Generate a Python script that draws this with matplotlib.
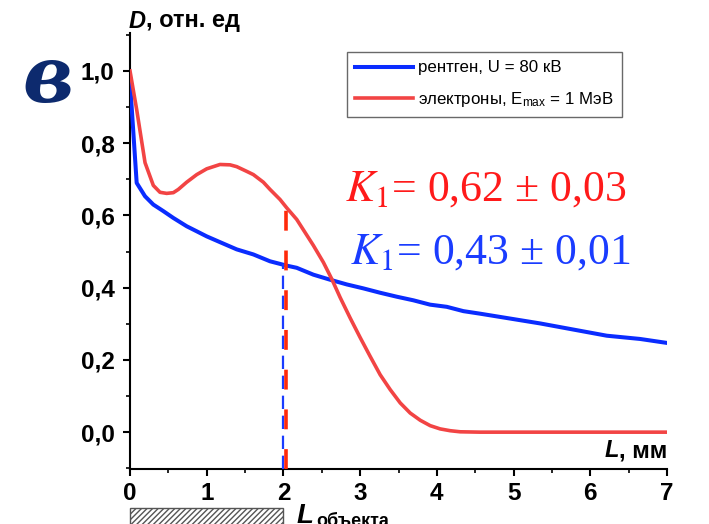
import matplotlib
matplotlib.use("Agg")
import matplotlib.pyplot as plt
from matplotlib.patches import Rectangle
import matplotlib.transforms as mtransforms
import numpy as np

# --- data ---
xray_x = [0.0, 0.087, 0.196, 0.304, 0.434, 0.565, 0.739, 0.870, 1.0, 1.173, 1.391, 1.608, 1.825, 2.043,
          2.173, 2.390, 2.608, 2.825, 3.042, 3.259, 3.477, 3.694, 3.911, 4.129, 4.346, 4.563,
          4.911, 5.346, 5.780, 6.215, 6.649, 7.0]
xray_y = [0.97, 0.690, 0.653, 0.630, 0.612, 0.593, 0.570, 0.556, 0.542, 0.526, 0.506, 0.492, 0.473, 0.461,
          0.455, 0.436, 0.422, 0.409, 0.398, 0.386, 0.375, 0.365, 0.353, 0.347, 0.335, 0.328,
          0.316, 0.301, 0.284, 0.267, 0.258, 0.247]

el_x = [0.0, 0.087, 0.196, 0.304, 0.391, 0.478, 0.565, 0.630, 0.739, 0.870, 1.0, 1.173, 1.304, 1.391,
        1.521, 1.608, 1.738, 1.825, 1.956, 2.043, 2.173, 2.390, 2.521, 2.630, 2.739, 2.870, 3.0,
        3.130, 3.261, 3.391, 3.522, 3.652, 3.783, 3.913, 4.043, 4.174, 4.304, 4.565, 5.0, 6.0, 7.0]
el_y = [1.0, 0.893, 0.746, 0.683, 0.664, 0.661, 0.663, 0.672, 0.692, 0.713, 0.729, 0.741, 0.740, 0.735,
        0.722, 0.713, 0.692, 0.672, 0.644, 0.621, 0.589, 0.517, 0.470, 0.424, 0.373, 0.316, 0.262,
        0.210, 0.159, 0.118, 0.081, 0.053, 0.033, 0.018, 0.009, 0.004, 0.001, 0.0, 0.0, 0.0, 0.0]

x_ticks = [0, 1, 2, 3, 4, 5, 6, 7]
y_ticks = [0.0, 0.2, 0.4, 0.6, 0.8, 1.0]
y_labels = ["0,0", "0,2", "0,4", "0,6", "0,8", "1,0"]

L_obj = 2.0
K_red = "= 0,62 ± 0,03"
K_blue = "= 0,43 ± 0,01"
leg_xray = "рентген, U = 80 кВ"
leg_el = "электроны, E$_{\\mathregular{max}}$ = 1 МэВ"

plt.rcParams['font.family'] = ['Liberation Sans', 'DejaVu Sans']
plt.rcParams['mathtext.fontset'] = 'stix'

fig = plt.figure(figsize=(7.09, 5.24), dpi=100)
ax = fig.add_axes([130/709, 1-469/524, (667-130)/709, (469-33)/524])

BLUE = '#0a2cff'
RED = '#f24444'

ax.plot(xray_x, xray_y, color=BLUE, lw=2.9, label=leg_xray, zorder=3)
ax.plot(el_x, el_y, color=RED, lw=2.6, label=leg_el, zorder=3)

# vertical dashed markers
ax.plot([L_obj, L_obj], [-0.102, 0.465], color='#1a3cff', lw=1.6, ls=(0, (6, 3)), zorder=4)
ax.plot([L_obj + 0.03, L_obj + 0.03], [-0.102, 0.625], color='#ff2a0a', lw=2.6, ls=(0, (5.5, 5.5)), zorder=5)

ax.set_xlim(0, 7)
ax.set_ylim(-0.102, 1.105)

ax.spines['top'].set_visible(False)
ax.spines['right'].set_visible(False)
for s in ['left', 'bottom']:
    ax.spines[s].set_linewidth(1.5)

ax.set_xticks(x_ticks)
ax.set_xticklabels([str(v) for v in x_ticks])
ax.set_yticks(y_ticks)
ax.set_yticklabels(y_labels)
ax.set_xticks(np.arange(0.5, 7, 1.0), minor=True)
ax.set_yticks(np.arange(-0.1, 1.11, 0.2), minor=True)
ax.tick_params(which='major', direction='out', length=5, width=1.5, labelsize=17.5, pad=4)
ax.tick_params(which='minor', direction='out', length=3, width=1.2)
ax.tick_params(axis='y', which='major', pad=6)
for lab in ax.get_xticklabels() + ax.get_yticklabels():
    lab.set_fontweight('bold')

fig.canvas.draw()
rend = fig.canvas.get_renderer()

# y axis label
t1 = fig.text(129/709, 1-21/524, "D", fontsize=17, fontweight='bold', fontstyle='italic', ha='left', va='center')
bb = t1.get_window_extent(renderer=rend)
fig.text(bb.x1/709, 1-21/524, ", отн. ед", fontsize=17, fontweight='bold', ha='left', va='center')

# x axis label
t2 = ax.text(7.0, -0.052, ", мм", fontsize=17, fontweight='bold', ha='right', va='center')
bb2 = t2.get_window_extent(renderer=rend)
fig.text(bb2.x0/709, bb2.y0/524, "L", fontsize=17, fontweight='bold', fontstyle='italic', ha='right', va='bottom')

# big letter
fig.text(22/709, 1-80/524, "в", fontsize=56, fontweight='bold', fontstyle='italic',
         family='DejaVu Serif', color='#0d2a6e', ha='left', va='center')

# K texts
ax.text(2.80, 0.672, r"$K_1$" + K_red, fontsize=31.5, family='Liberation Serif', color='#ff1a1a', ha='left', va='center')
ax.text(2.87, 0.497, r"$K_1$" + K_blue, fontsize=31.5, family='Liberation Serif', color='#1a3cff', ha='left', va='center')

# legend
leg = ax.legend(loc='upper left', bbox_to_anchor=(347/709, 1-52/524), bbox_transform=fig.transFigure,
                fontsize=12.2, frameon=True, fancybox=False, handlelength=3.4, handletextpad=0.3,
                borderpad=0.5, labelspacing=0.85, borderaxespad=0)
leg.get_frame().set_edgecolor('#444444')
leg.get_frame().set_linewidth(1.0)

# hatched object bar below axis
trans = mtransforms.blended_transform_factory(ax.transData, fig.transFigure)
rect = Rectangle((0, -0.02), L_obj, 0.02 + (524-508)/524, transform=trans, clip_on=False,
                 facecolor='white', edgecolor='#555555', hatch='//////', lw=1.0)
fig.add_artist(rect)
fig.text(297/709, 1-503/524, "L", fontsize=20, fontweight='bold', fontstyle='italic', ha='left', va='top')
fig.text(316/709, 1-513/524, "объекта", fontsize=13, fontweight='bold', ha='left', va='top')

fig.savefig("out.png", dpi=100)
